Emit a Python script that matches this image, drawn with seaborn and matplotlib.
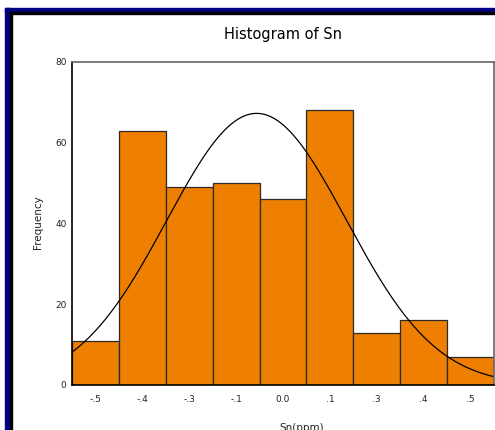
import numpy as np
import pandas as pd
import matplotlib
matplotlib.use("Agg")
import matplotlib.pyplot as plt
from matplotlib.patches import Rectangle
import seaborn as sns

# Data
bin_centers = [-0.52, -0.39, -0.26, -0.13, 0.0, 0.13, 0.26, 0.39, 0.52]
counts = [11, 63, 49, 50, 46, 68, 13, 16, 7]
tick_labels = ["-.5", "-.4", "-.3", "-.1", "0.0", ".1", ".3", ".4", ".5"]
y_ticks = [0, 20, 40, 60, 80]
bin_width = 0.13
curve_mean = -0.073
curve_sd = 0.249

sns.set_style("white")
plt.rcParams['font.family'] = ['DejaVu Sans']

fig = plt.figure(figsize=(4.95, 4.30), dpi=100)
W, H = 495, 430

def fx(px):
    return px / W

def fy(py):
    return 1 - py / H

ax = fig.add_axes([fx(72), fy(385), fx(494) - fx(72), fy(62) - fy(385)])

lo = bin_centers[0] - bin_width / 2
hi = bin_centers[-1] + bin_width / 2
df = pd.DataFrame({"Sn": bin_centers, "n": counts})
sns.histplot(data=df, x="Sn", weights="n", bins=len(bin_centers), binrange=(lo, hi),
             color="#EE7F00", alpha=1.0, edgecolor="#2a2a2a", linewidth=0.9, ax=ax)

# Fitted normal curve
n_total = sum(counts)
xs = np.linspace(lo, hi, 300)
ys = n_total * bin_width * np.exp(-0.5 * ((xs - curve_mean) / curve_sd) ** 2) / (curve_sd * np.sqrt(2 * np.pi))
sns.lineplot(x=xs, y=ys, color="black", linewidth=0.9, ax=ax)

ax.set_xlim(lo, hi)
ax.set_ylim(0, 80)
ax.set_xticks(bin_centers)
ax.set_xticklabels(tick_labels)
ax.set_yticks(y_ticks)
ax.set_yticklabels([str(v) for v in y_ticks])
ax.tick_params(axis="both", which="major", length=2, width=1.8, color="black",
               labelsize=6.5, labelcolor="#222222")
ax.tick_params(axis="x", pad=5, direction="out")
ax.tick_params(axis="y", pad=2, direction="out")
ax.set_xlabel("")
ax.set_ylabel("")
for side in ["left", "bottom"]:
    ax.spines[side].set_color("black")
    ax.spines[side].set_linewidth(1.2)
for side in ["top", "right"]:
    ax.spines[side].set_visible(True)
    ax.spines[side].set_color("#666666")
    ax.spines[side].set_linewidth(1.2)

fig.text(fx(283), fy(35), "Histogram of Sn", ha="center", va="center", fontsize=10.5, color="black")
fig.text(fx(38), fy(222), "Frequency", ha="center", va="center", rotation=90, fontsize=7.5, color="#222222")
fig.text(fx(302), fy(423), "Sn(ppm)", ha="center", va="top", fontsize=7.5, color="#222222")

# Outer frame
navy = "#000080"
fig.patches.append(Rectangle((fx(5), 0), fx(5), fy(8), transform=fig.transFigure, color=navy, zorder=10))
fig.patches.append(Rectangle((fx(5), fy(12)), 1, fy(8) - fy(12), transform=fig.transFigure, color=navy, zorder=10))
fig.patches.append(Rectangle((fx(10), 0), fx(2), fy(12), transform=fig.transFigure, color="black", zorder=10))
fig.patches.append(Rectangle((fx(10), fy(14)), 1, fy(12) - fy(14), transform=fig.transFigure, color="black", zorder=10))

fig.savefig("out.png", dpi=100, facecolor="white")
